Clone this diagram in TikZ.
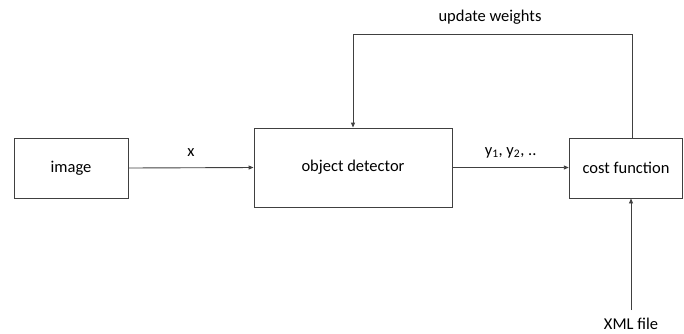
\documentclass[tikz,border=0pt]{standalone}
\usepackage{fontspec}
\setmainfont{Carlito}
\usetikzlibrary{arrows.meta}
\begin{document}
\begin{tikzpicture}[x=1pt,y=-1pt,
  block/.style={draw=black!75, line width=0.9pt, inner sep=0pt, font=\fontsize{16.5}{19}\selectfont},
  flow/.style={draw=black!75, line width=0.9pt, -{Triangle[length=5pt,width=4pt]}},
  lbl/.style={font=\fontsize{16.5}{19}\selectfont, inner sep=0pt}]
\useasboundingbox (0,0) rectangle (684,333);
\node[block, minimum width=114pt, minimum height=60pt] (img) at (71,168) {image};
\node[block, minimum width=198pt, minimum height=79pt] (det) at (353,167.5) {object detector};
\node[block, minimum width=113.5pt, minimum height=60pt] (cost) at (626,168) {cost function};
\node[lbl] (xml) at (631,324) {XML file};
\coordinate (xs) at (631,310);
\coordinate (fbR) at (632,34);
\coordinate (fbL) at (353,34);
\draw[flow] (img.east) -- (det.west) node[lbl, midway, above=11pt] (xl) {x};
\draw[flow] (det.east) -- (det.east -| cost.west) node[lbl, midway, above=9pt] (yl) {y\textsubscript{1}, y\textsubscript{2}, ..};
\draw[flow] (cost.north -| fbR) -- (fbR) -- (fbL) -- (fbL |- det.north);
\node[lbl] (uw) at (490,17) {update weights};
\draw[flow] (xs) -- (xs |- cost.south);
\end{tikzpicture}
\end{document}
